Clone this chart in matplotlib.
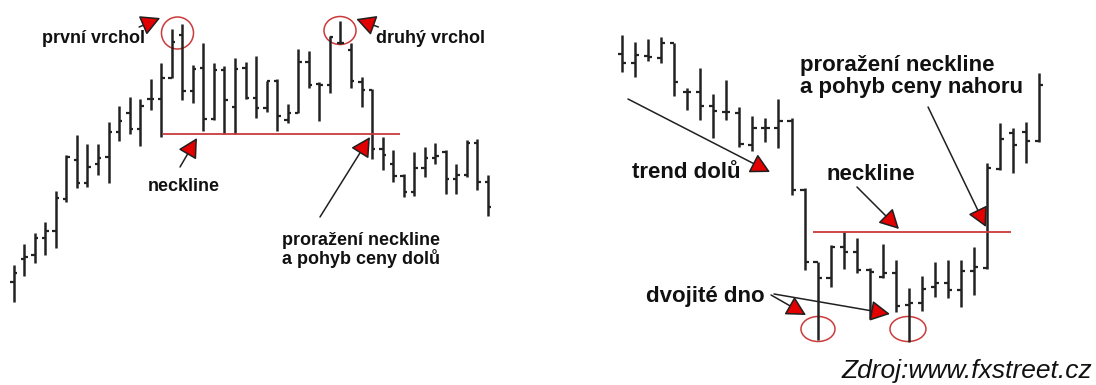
import matplotlib
matplotlib.use("Agg")
import matplotlib.pyplot as plt
from matplotlib.patches import Ellipse
import numpy as np

# ---------------- data: left chart (double top) ----------------
left_open = [68, 91, 95, 112, 119, 151, 190, 167, 186, 193, 218, 237, 221, 251, 251, 272,
             315, 259, 282, 231, 280, 243, 282, 252, 242, 269, 230, 237, 288, 266, 265, 307,
             300, 268, 260, 201, 186, 174, 158, 182, 192, 198, 171, 175, 207, 168]
left_high = [85, 106, 117, 128, 159, 195, 215, 206, 206, 228, 244, 253, 251, 271, 287, 321,
             326, 285, 307, 287, 284, 292, 288, 294, 269, 271, 246, 301, 299, 268, 314, 329,
             307, 273, 261, 213, 200, 176, 198, 203, 207, 200, 186, 210, 211, 175]
left_low = [48, 74, 87, 95, 102, 148, 162, 163, 175, 167, 209, 216, 204, 240, 213, 272,
            250, 247, 219, 230, 216, 216, 251, 232, 238, 219, 227, 237, 262, 229, 257, 306,
            262, 243, 191, 180, 168, 153, 154, 173, 186, 156, 156, 173, 160, 134]
left_close = [77, 93, 112, 119, 152, 193, 167, 183, 192, 218, 229, 221, 244, 251, 272, 308,
              259, 281, 231, 280, 250, 281, 252, 242, 269, 234, 237, 288, 265, 265, 313, 307,
              269, 260, 201, 195, 174, 158, 182, 192, 194, 171, 175, 207, 168, 143]
left_neckline = 216

# ---------------- data: right chart (double bottom) ----------------
right_open = [306, 297, 304, 302, 317, 268, 268, 254, 248, 247, 215, 232, 232, 239, 170, 98,
              82, 113, 108, 90, 83, 87, 55, 57, 73, 77, 70, 89, 92, 191, 227, 228, 219]
right_high = [325, 318, 321, 323, 317, 272, 292, 266, 280, 253, 244, 242, 261, 242, 172, 98,
              115, 128, 122, 92, 116, 100, 72, 84, 98, 100, 100, 113, 197, 237, 232, 238, 287]
right_low = [288, 283, 299, 297, 264, 250, 240, 222, 240, 213, 209, 218, 212, 165, 90, 20,
             73, 91, 87, 41, 82, 48, 18, 49, 63, 62, 53, 65, 91, 190, 187, 197, 218]
right_close = [297, 305, 303, 317, 278, 268, 254, 249, 248, 216, 232, 232, 239, 170, 98, 82,
               113, 108, 90, 88, 87, 54, 57, 71, 77, 70, 89, 93, 192, 221, 215, 219, 275]
right_neckline = 128.5

BAR = "#222222"
NECK = "#cc3a3a"
TRI = "#e30000"
FONT = ["Liberation Sans", "DejaVu Sans"]

fig = plt.figure(figsize=(10.96, 3.85), dpi=100)
fig.patch.set_facecolor("white")


def draw_ohlc(ax, o, h, l, c, tick=0.32):
    x = np.arange(len(o))
    ax.vlines(x, l, h, color=BAR, lw=1.8)
    ax.hlines(o, x - tick, x, color=BAR, lw=1.6)
    ax.hlines(c, x, x + tick, color=BAR, lw=1.6)


def arrow(ax, tail, tip):
    ax.annotate("", xy=tip, xytext=tail,
                arrowprops=dict(arrowstyle="-|>,head_length=0.6,head_width=0.32",
                                fc=TRI, ec="#202020", lw=1.1, mutation_scale=20,
                                shrinkA=0, shrinkB=0),
                annotation_clip=False)


def label(ax, xy, s, size, ha="center"):
    ax.text(xy[0], xy[1], s, fontsize=size, fontweight="bold", family=FONT,
            ha=ha, va="center", color="#111111", linespacing=1.05, clip_on=False)


# ---------------- left axes ----------------
axL = fig.add_axes([0, 1 - 310 / 385, 500 / 1096, 310 / 385])
axL.set_xlim(-1.30, 46.14)
axL.set_ylim(40, 350)
axL.axis("off")
draw_ohlc(axL, left_open, left_high, left_low, left_close)
axL.hlines(left_neckline, 14.17, 36.65, color=NECK, lw=1.3)
for cx, cy, w, hgt in [(15.54, 317, 3.04, 32), (30.96, 319.5, 3.04, 28)]:
    axL.add_patch(Ellipse((cx, cy), w, hgt, fill=False, ec=NECK, lw=1.1, clip_on=False))

label(axL, (7.57, 311.5), "první vrchol", 13)
label(axL, (39.5, 311.5), "druhý vrchol", 13)
label(axL, (16.16, 163.5), "neckline", 13)
label(axL, (25.46, 100), "proražení neckline\na pohyb ceny dolů", 13, ha="left")
arrow(axL, (11.9, 323), (13.9, 332))
arrow(axL, (34.6, 323), (32.5, 331))
arrow(axL, (15.78, 183), (17.39, 212))
arrow(axL, (29.06, 133), (33.8, 213))

# ---------------- right axes ----------------
axR = fig.add_axes([600 / 1096, 1 - 360 / 385, 496 / 1096, 360 / 385])
axR.set_xlim(-1.687, 36.35)
axR.set_ylim(0, 360)
axR.axis("off")
draw_ohlc(axR, right_open, right_high, right_low, right_close)
axR.hlines(right_neckline, 14.62, 29.81, color=NECK, lw=1.3)
for cx, cy, w, hgt in [(15.03, 31, 2.61, 25), (21.93, 31, 2.76, 25)]:
    axR.add_patch(Ellipse((cx, cy), w, hgt, fill=False, ec=NECK, lw=1.1, clip_on=False))

label(axR, (4.91, 187.5), "trend dolů", 16)
label(axR, (19.09, 185.5), "neckline", 16)
label(axR, (13.65, 283.5), "proražení neckline\na pohyb ceny nahoru", 16, ha="left")
label(axR, (6.40, 63.5), "dvojité dno", 16)
arrow(axR, (0.46, 261), (11.35, 188))
arrow(axR, (18.02, 173), (21.24, 131))
arrow(axR, (23.47, 253), (27.91, 133))
arrow(axR, (11.43, 65), (14.11, 45))
arrow(axR, (11.66, 66), (20.55, 46))

fig.text(1092 / 1096, 1 - 371 / 385, "Zdroj:www.fxstreet.cz", fontsize=19,
         style="italic", family=FONT, ha="right", va="center", color="#111111")

fig.savefig("out.png", dpi=100)
